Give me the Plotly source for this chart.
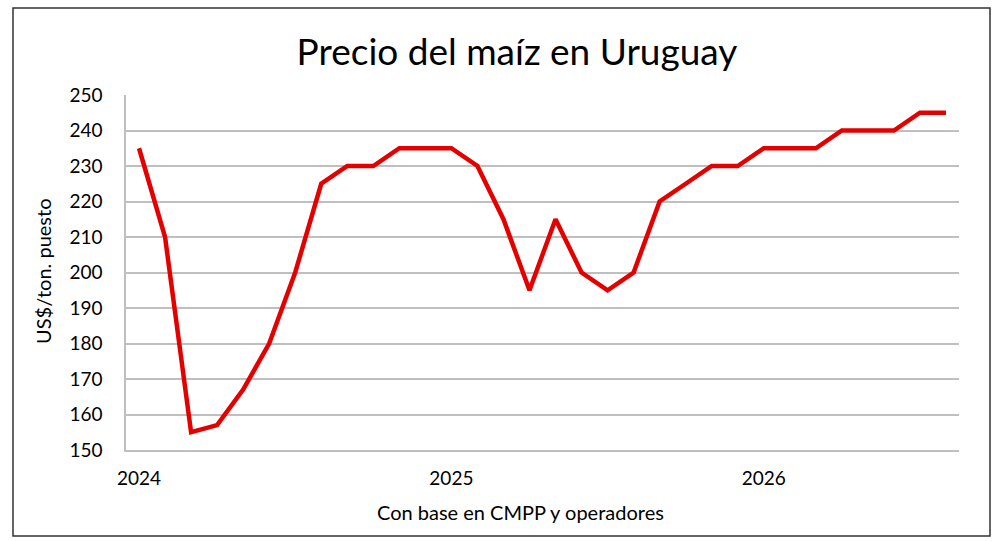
import plotly.graph_objects as go

# monthly series, Jan 2024 - Aug 2026
months = [f"{y}-{m:02d}" for y in (2024, 2025, 2026) for m in range(1, 13)][:32]
prices = [
    235, 210, 155, 157, 167, 180, 200, 225, 230, 230, 235, 235,
    235, 230, 215, 195, 215, 200, 195, 200, 220, 225, 230, 230,
    235, 235, 235, 240, 240, 240, 245, 245,
]
year_ticks = ["2024-01", "2025-01", "2026-01"]
year_labels = ["2024", "2025", "2026"]
y_ticks = list(range(150, 251, 10))

font_family = "Lato, 'Open Sans', sans-serif"
grid_color = "#BFBFBF"

fig = go.Figure()
fig.add_trace(
    go.Scatter(
        x=months,
        y=prices,
        mode="lines",
        line=dict(color="#E50000", width=4.5),
        hoverinfo="x+y",
    )
)

fig.update_layout(
    width=1000,
    height=541,
    margin=dict(l=126, r=41, t=95, b=91),
    paper_bgcolor="white",
    plot_bgcolor="white",
    showlegend=False,
    font=dict(family=font_family, color="#000000"),
    title=dict(
        text="Precio del maíz en Uruguay",
        x=0.517,
        xanchor="center",
        y=1 - 52 / 541,
        yanchor="middle",
        font=dict(size=37, color="#000000", family=font_family),
    ),
    xaxis=dict(
        type="category",
        categoryorder="array",
        categoryarray=months,
        range=[-0.5, len(months) - 0.5],
        tickvals=year_ticks,
        ticktext=year_labels,
        showgrid=False,
        zeroline=False,
        showline=True,
        linecolor=grid_color,
        linewidth=1.5,
        ticks="outside",
        ticklen=0,
        ticklabelstandoff=10,
        tickfont=dict(size=19, color="#000000"),
    ),
    yaxis=dict(
        range=[150, 250],
        tickvals=y_ticks,
        showgrid=True,
        gridcolor=grid_color,
        gridwidth=1.5,
        zeroline=False,
        showline=True,
        linecolor=grid_color,
        linewidth=1.5,
        ticks="outside",
        ticklen=0,
        ticklabelstandoff=18,
        tickfont=dict(size=19, color="#000000"),
    ),
)

# axis titles placed as annotations
fig.add_annotation(
    text="US$/ton. puesto",
    xref="paper", yref="paper",
    x=(43 - 126) / 833, y=(450 - 272) / 355,
    textangle=-90,
    showarrow=False,
    xanchor="center", yanchor="middle",
    font=dict(size=20, color="#000000"),
)
fig.add_annotation(
    text="Con base en CMPP y operadores",
    xref="paper", yref="paper",
    x=(520 - 126) / 833, y=(450 - 512) / 355,
    showarrow=False,
    xanchor="center", yanchor="middle",
    font=dict(size=20, color="#000000"),
)

# chart frame around the whole figure
fig.add_shape(
    type="rect",
    xref="paper", yref="paper",
    x0=(13 - 126) / 833, x1=(990 - 126) / 833,
    y0=(450 - 536) / 355, y1=(450 - 8) / 355,
    line=dict(color="#333333", width=1.5),
    fillcolor="rgba(0,0,0,0)",
)

# drop the default page margin so the figure sits at the window origin
fig.write_html(
    "out.html",
    config={"displayModeBar": False},
    post_script="document.body.style.margin = '0';",
)
